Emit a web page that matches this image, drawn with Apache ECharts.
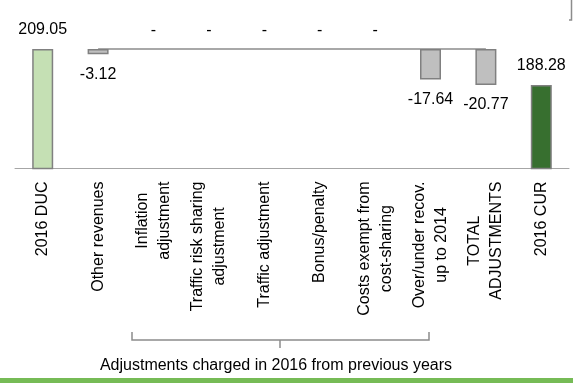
<!DOCTYPE html>
<html>
<head>
<meta charset="utf-8">
<script src="https://cdn.jsdelivr.net/npm/echarts@6/dist/echarts.min.js"></script>
<style>
  html, body { margin: 0; padding: 0; background: #fff; }
  #chart { width: 573px; height: 383px; }
</style>
</head>
<body>
<div id="chart"></div>
<script>
// categories and values
const categories = [
  '2016 DUC',
  'Other revenues',
  'Inflation\nadjustment',
  'Traffic risk sharing\nadjustment',
  'Traffic adjustment',
  'Bonus/penalty',
  'Costs exempt from\ncost-sharing',
  'Over/under recov.\nup to 2014',
  'TOTAL\nADJUSTMENTS',
  '2016 CUR'
];
// start / end totals (null where there is none)
const totalValues = [209.05, null, null, null, null, null, null, null, null, 188.28];
// adjustments, null = shown as "-"
const adjValues = [null, -3.12, null, null, null, null, null, -17.64, -20.77, null];
// which categories carry the "-" placeholder
const dashCats = [2, 3, 4, 5, 6];
const footerText = 'Adjustments charged in 2016 from previous years';

const startLevel = totalValues[0];
const totalColors = ['#c5e0b4', '#376f2f'];

// hanging bars: transparent base + visible delta
const baseData = adjValues.map(v => v == null ? '-' : startLevel + v);
const deltaData = adjValues.map(v => v == null ? '-' : -v);
let ti = 0;
const totalData = totalValues.map(v => v == null ? '-' : {
  value: v,
  itemStyle: { color: totalColors[ti++] }
});
// grey connector at the starting level, from "Other revenues" to "TOTAL ADJUSTMENTS"
const connectorData = categories.map((c, i) => (i >= 1 && i <= 8) ? startLevel : null);

const font = '"Liberation Sans", Arial, sans-serif';

const chart = echarts.init(document.getElementById('chart'));
chart.setOption({
  animation: false,
  grid: { left: 15, right: 4, top: 4, bottom: 214.5 },
  xAxis: {
    type: 'category',
    data: categories,
    axisLine: { lineStyle: { color: '#a6a6a6', width: 1 } },
    axisTick: { length: 5, lineStyle: { color: '#a6a6a6' } },
    axisLabel: {
      interval: 0,
      rotate: 90,
      margin: 13,
      color: '#000',
      fontFamily: font,
      fontSize: 16,
      formatter: v => v.split('\n').map(s => '{c|' + s + '}').join('\n'),
      rich: {
        c: { align: 'center', fontFamily: font, fontSize: 16, lineHeight: 22, color: '#000' }
      }
    }
  },
  yAxis: { type: 'value', min: 140, max: 235, show: false },
  series: [
    {
      name: 'base',
      type: 'bar',
      stack: 'w',
      barWidth: 21,
      itemStyle: { color: 'transparent' },
      data: baseData
    },
    {
      name: 'adjustment',
      type: 'bar',
      stack: 'w',
      barWidth: 21,
      itemStyle: { color: '#bfbfbf', borderColor: '#808080', borderWidth: 1.5 },
      label: {
        show: true,
        position: 'bottom',
        distance: 12,
        color: '#000',
        fontFamily: font,
        fontSize: 16,
        formatter: p => '-' + p.value.toFixed(2)
      },
      data: deltaData
    },
    {
      name: 'total',
      type: 'bar',
      stack: 'w',
      barWidth: 21,
      itemStyle: { borderColor: '#808080', borderWidth: 1.5 },
      label: {
        show: true,
        position: 'top',
        distance: 11,
        color: '#000',
        fontFamily: font,
        fontSize: 16,
        formatter: p => p.value.toFixed(2)
      },
      data: totalData
    },
    {
      name: 'connector',
      type: 'line',
      symbol: 'circle',
      symbolSize: 0,
      lineStyle: { color: '#8c8c8c', width: 1.5 },
      itemStyle: { color: '#8c8c8c' },
      label: {
        show: true,
        position: 'top',
        distance: 10,
        color: '#000',
        fontFamily: font,
        fontSize: 16,
        formatter: p => dashCats.includes(p.dataIndex) ? '-' : ''
      },
      z: 1,
      data: connectorData
    }
  ],
  graphic: [
    // bracket under the adjustment labels
    {
      type: 'polyline',
      shape: { points: [[132, 332], [132, 340], [429, 340], [429, 332]] },
      style: { stroke: '#8c8c8c', lineWidth: 1.5, fill: null }
    },
    {
      type: 'line',
      shape: { x1: 280, y1: 340, x2: 280, y2: 348 },
      style: { stroke: '#8c8c8c', lineWidth: 1.5 }
    },
    {
      type: 'text',
      x: 276,
      y: 366,
      style: {
        text: footerText,
        fill: '#000',
        font: '16px ' + font,
        align: 'center',
        verticalAlign: 'middle'
      }
    },
    // fragment of a frame in the top-right corner
    {
      type: 'polyline',
      shape: { points: [[571.5, 0], [571.5, 20], [569, 20]] },
      style: { stroke: '#8c8c8c', lineWidth: 1.5, fill: null }
    },
    // green band along the bottom
    {
      type: 'rect',
      shape: { x: 0, y: 378, width: 573, height: 5 },
      style: { fill: '#76bb56' }
    }
  ]
});
</script>
</body>
</html>
